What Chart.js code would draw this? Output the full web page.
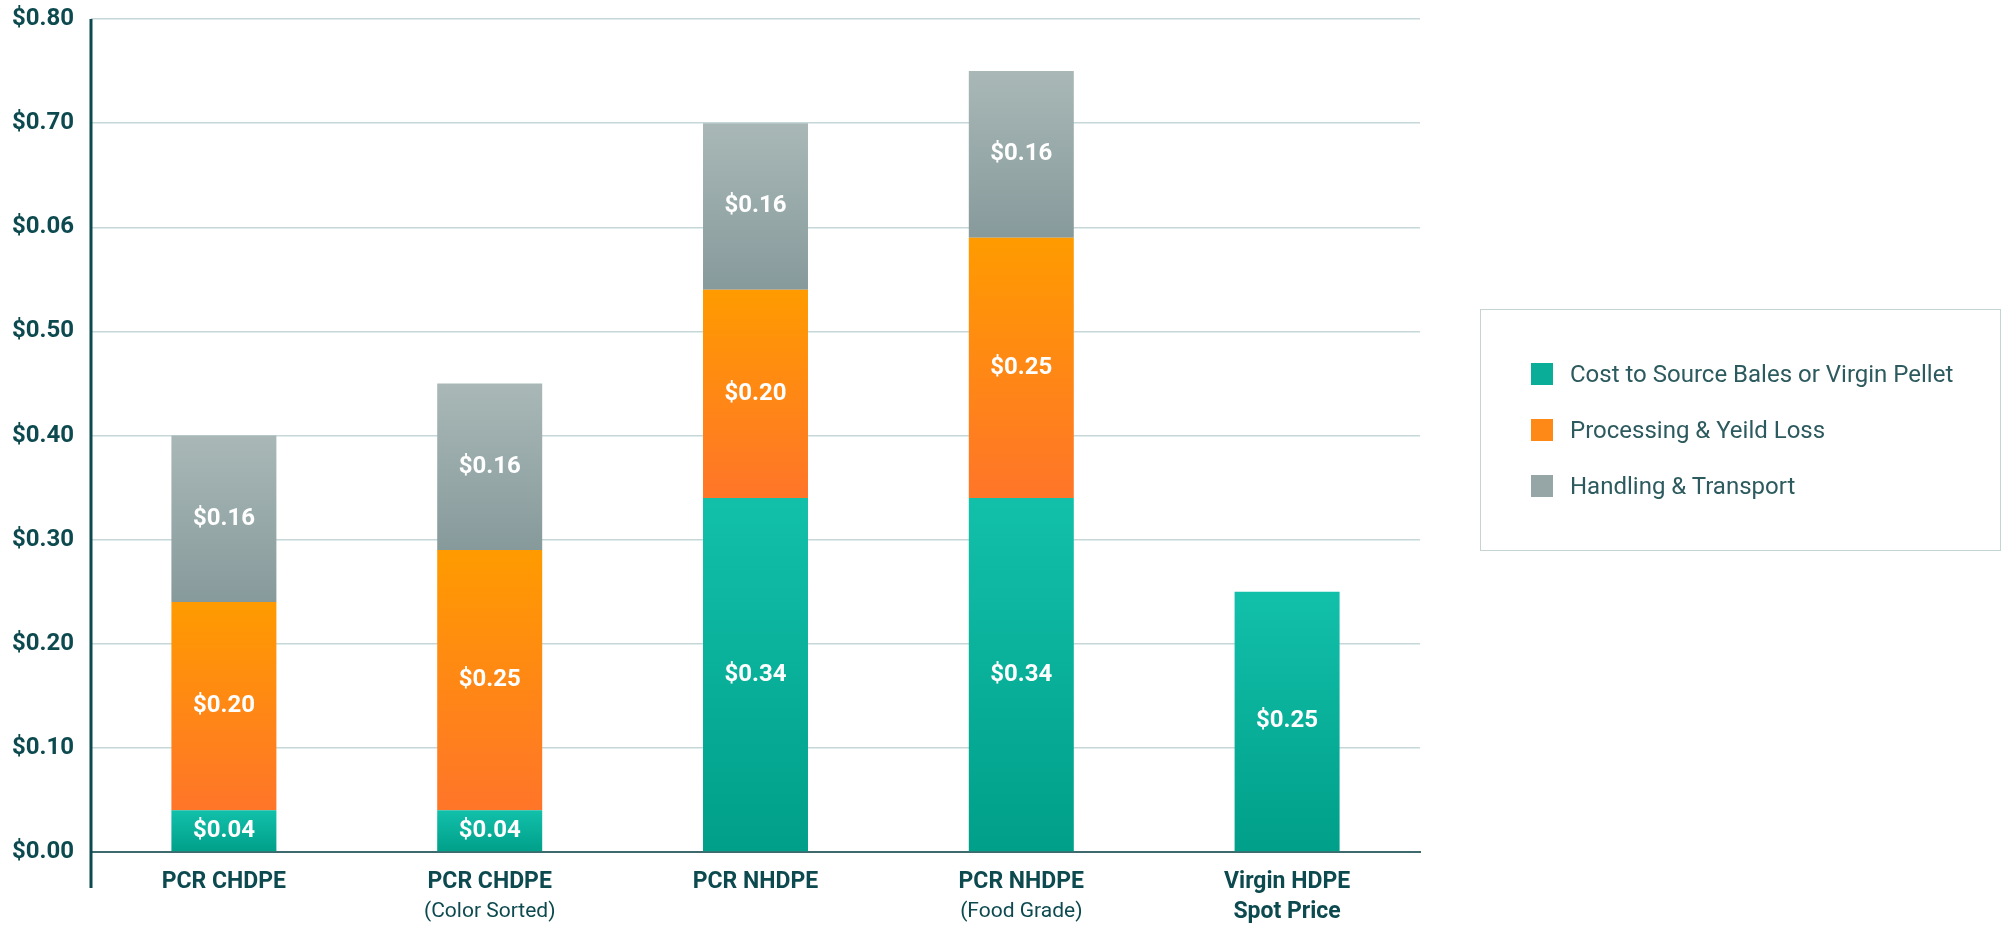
<!DOCTYPE html>
<html>
<head>
<meta charset="utf-8">
<script src="https://cdn.jsdelivr.net/npm/chart.js@4.4.1/dist/chart.umd.min.js"></script>
<style>
    html, body { margin: 0; padding: 0; background: #fff; }
    #wrap { position: relative; width: 2004px; height: 925px; overflow: hidden; }
    #legend {
        position: absolute; left: 1480px; top: 309px; width: 521px; height: 242px;
        border: 1.5px solid #c6d3d3; box-sizing: border-box;
        font-family: Roboto, sans-serif;
    }
    .item { position: absolute; left: 50px; display: flex; align-items: center; font-size: 24px; color: #2c5a5e; white-space: nowrap; }
    .sw { width: 22px; height: 22px; margin-right: 17px; }
</style>
</head>
<body>
<div id="wrap">
    <canvas id="costChart" width="2004" height="925"></canvas>
    <div id="legend"></div>
</div>
<script>
    // Data kategori & nilai
    const categories = [['PCR CHDPE'], ['PCR CHDPE'], ['PCR NHDPE'], ['PCR NHDPE'], ['Virgin HDPE', 'Spot Price']];
    const categoryNotes = ['', '(Color Sorted)', '', '(Food Grade)', ''];
    const seriesNames = ['Cost to Source Bales or Virgin Pellet', 'Processing & Yeild Loss', 'Handling & Transport'];
    const sourceCost = [0.04, 0.04, 0.34, 0.34, 0.25];
    const processing = [0.20, 0.25, 0.20, 0.25, null];
    const handling = [0.16, 0.16, 0.16, 0.16, null];
    const yTickLabels = ['$0.00', '$0.10', '$0.20', '$0.30', '$0.40', '$0.50', '$0.06', '$0.70', '$0.80'];

    const seriesData = [sourceCost, processing, handling];

    // Warna
    const gradTop = ['#12c0aa', '#ff9b00', '#a9b8b7'];
    const gradBottom = ['#009f89', '#ff7529', '#879a9b'];
    const swatch = ['#0aad97', '#ff8916', '#96a5a6'];
    const textDark = '#0d4a50';

    Chart.defaults.font.family = 'Roboto';

    // Gradien per segmen batang
    function barFill(ds) {
        return (ctx) => {
            const chart = ctx.chart;
            const y = chart.scales.y;
            if (!chart.chartArea || !y || ctx.type !== 'data') return swatch[ds];
            const i = ctx.dataIndex;
            let base = 0;
            for (let k = 0; k < ds; k++) base += seriesData[k][i] || 0;
            const top = base + (seriesData[ds][i] || 0);
            const g = chart.ctx.createLinearGradient(0, y.getPixelForValue(top), 0, y.getPixelForValue(base));
            g.addColorStop(0, gradTop[ds]);
            g.addColorStop(1, gradBottom[ds]);
            return g;
        };
    }

    const segmentLabels = {
        id: 'segmentLabels',
        afterDatasetsDraw(chart) {
            const c = chart.ctx;
            c.save();
            c.font = 'bold 24px Roboto';
            c.fillStyle = '#fff';
            c.textAlign = 'center';
            c.textBaseline = 'middle';
            chart.data.datasets.forEach((ds, d) => {
                chart.getDatasetMeta(d).data.forEach((bar, i) => {
                    const v = ds.data[i];
                    if (!v) return;
                    c.fillText('$' + v.toFixed(2), bar.x, (bar.y + bar.base) / 2);
                });
            });
            c.restore();
        }
    };

    const axisExtras = {
        id: 'axisExtras',
        afterDraw(chart) {
            const { ctx: c, chartArea: a, scales: { x } } = chart;
            c.save();
            c.strokeStyle = textDark;
            c.lineWidth = 3;
            c.beginPath();
            c.moveTo(a.left, a.top);
            c.lineTo(a.left, a.bottom + 36);
            c.stroke();
            c.font = '21px Roboto';
            c.fillStyle = textDark;
            c.textAlign = 'center';
            c.textBaseline = 'middle';
            categoryNotes.forEach((n, i) => {
                if (n) c.fillText(n, x.getPixelForValue(i), a.bottom + 60);
            });
            c.restore();
        }
    };

    new Chart(document.getElementById('costChart'), {
        type: 'bar',
        data: {
            labels: categories,
            datasets: seriesData.map((vals, d) => ({
                label: seriesNames[d],
                data: vals,
                backgroundColor: barFill(d),
                borderWidth: 0
            }))
        },
        options: {
            responsive: false,
            animation: false,
            layout: { padding: { top: 19, right: 584, left: 0, bottom: 0 } },
            plugins: { legend: { display: false }, tooltip: { enabled: false } },
            datasets: { bar: { categoryPercentage: 1, barPercentage: 0.395 } },
            scales: {
                x: {
                    stacked: true,
                    grid: { display: false, drawTicks: false },
                    border: { display: true, color: '#3f6a6d', width: 2 },
                    ticks: {
                        color: textDark, padding: 15, maxRotation: 0, autoSkip: false,
                        font: { family: 'Roboto', weight: 'bold', size: 23, lineHeight: 1.3 }
                    },
                    afterFit: s => { s.height = 73; s.paddingLeft = 0; s.paddingRight = 0; }
                },
                y: {
                    stacked: true, min: 0, max: 0.8,
                    ticks: {
                        stepSize: 0.1, padding: 17, color: textDark,
                        font: { family: 'Roboto', weight: 'bold', size: 24 },
                        callback: (v, i) => yTickLabels[i]
                    },
                    grid: { color: '#c5d7d9', lineWidth: 1.5, drawTicks: false },
                    border: { display: false },
                    afterFit: s => { s.width = 91; s.paddingTop = 0; s.paddingBottom = 0; }
                }
            }
        },
        plugins: [segmentLabels, axisExtras]
    });

    // Legend HTML
    const legendEl = document.getElementById('legend');
    legendEl.innerHTML = seriesNames.map((name, i) => `
        <div class="item" style="top:${50 + i * 56}px">
            <span class="sw" style="background:${swatch[i]}"></span>${name}
        </div>`).join('');
</script>
</body>
</html>
